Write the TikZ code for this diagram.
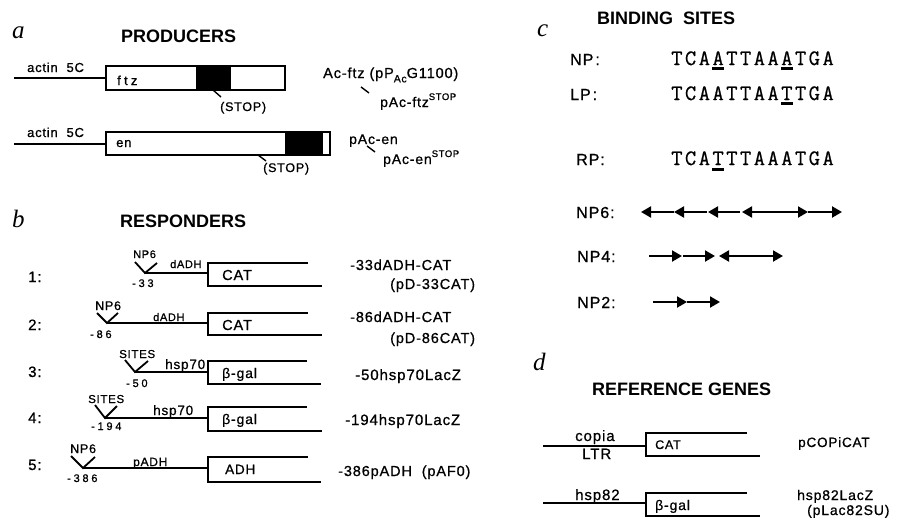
\documentclass[tikz,border=0pt]{standalone}
\usepackage{fontspec}
\setmainfont{Liberation Sans}
\newfontfamily\lsf[LetterSpace=6,FakeBold=0.8]{Liberation Sans}
\newfontfamily\wsf[LetterSpace=25,FakeBold=0.8]{Liberation Sans}
\newfontfamily\hsf{Liberation Sans}
\newfontfamily\pletter{Liberation Serif}
\newfontfamily\seqf[FakeBold=0.6]{Latin Modern Mono}
\usetikzlibrary{arrows.meta}
\newcommand\fs[1]{\fontsize{#1}{#1}\selectfont}
\newcommand\supstop{\raisebox{0.5em}{\lsf\fs{9.5}STOP}}
\tikzset{
  lbl/.style={anchor=base west, inner sep=0pt, font=\lsf\fs{#1}},
  lbl/.default=14,
  wlbl/.style={anchor=base west, inner sep=0pt, font=\wsf\fs{#1}},
  wlbl/.default=11,
  head/.style={anchor=base west, inner sep=0pt, font=\hsf\bfseries\fs{18}},
  panel/.style={anchor=base west, inner sep=0pt, font=\pletter\itshape\fs{25}},
  gene/.style={line width=1.8pt},
  thin/.style={line width=1.4pt},
  seq/.style={anchor=base, inner sep=0pt, font=\seqf\fs{22}},
  uline/.style={line width=2.6pt},
  site/.style={line width=2pt, -{Triangle[length=10pt,width=11pt]}},
}
\begin{document}
\begin{tikzpicture}[x=1pt,y=-1pt]
\useasboundingbox (0,0) rectangle (909,519);
\fill[white] (0,0) rectangle (909,519);

% ---------------- panel a
\node[panel] (pa) at (12,39) {a};
\node[head] (hprod) at (121,43) {PRODUCERS};
% row 1
\node[lbl=13] (act1) at (27,72) {actin\ \ 5C};
\coordinate (a1s) at (14,78); \coordinate (a1e) at (106,78);
\draw[gene] (a1s) -- (a1e);
\draw[thin] (106,66) rectangle (285,90);
\fill (196,66) rectangle (231,90);
\node[wlbl=13] (ftz) at (117,85) {ftz};
\coordinate (st1a) at (213,90); \coordinate (st1b) at (221,97);
\draw[thin] (st1a) -- (st1b);
\node[lbl=12.5] (stop1) at (220,111) {(STOP)};
\node[lbl=14.5] (acftz) at (323,78) {Ac-ftz (pP\raisebox{-0.3em}{\lsf\fs{10.5}Ac}G1100)};
\coordinate (t1a) at (361,87); \coordinate (t1b) at (369,93);
\draw[thin] (t1a) -- (t1b);
\node[lbl=14] (pacftz) at (380,107) {pAc-ftz\supstop};
% row 2
\node[lbl=13] (act2) at (27,137) {actin\ \ 5C};
\coordinate (a2s) at (14,144); \coordinate (a2e) at (106,144);
\draw[gene] (a2s) -- (a2e);
\draw[thin] (106,132) rectangle (330,155);
\fill (285,132) rectangle (323,155);
\node[lbl=13] (en) at (116,147) {en};
\coordinate (st2a) at (258,155); \coordinate (st2b) at (266,161);
\draw[thin] (st2a) -- (st2b);
\node[lbl=12.5] (stop2) at (263,172) {(STOP)};
\node[lbl=14] (pacen) at (349,144) {pAc-en};
\coordinate (t2a) at (367,146); \coordinate (t2b) at (375,152);
\draw[thin] (t2a) -- (t2b);
\node[lbl=14] (pacens) at (383,164) {pAc-en\supstop};

% ---------------- panel b
\node[panel] (pb) at (12,227) {b};
\node[head] (hresp) at (120,227) {RESPONDERS};
% row 1
\node[lbl=15] (n1) at (28,282) {1:};
\node[lbl=11] (r1np) at (133,258) {NP6};
\draw[gene] (135,262) -- (145,273) -- (157,263);
\coordinate (r1v) at (145,273); \coordinate (r1b) at (208,273);
\draw[gene] (r1v) -- (r1b);
\node[lbl=11] (r1ad) at (170,268) {dADH};
\node[wlbl=11] (r1p) at (132,287) {-33};
\draw[gene] (308,263) -- (208,263) -- (208,286) -- (322,286);
\node[lbl=14.5] (r1cat) at (222,280) {CAT};
\node[lbl=14.5] (r1l) at (350,270) {-33dADH-CAT};
\node[lbl=14.5] (r1m) at (390,289) {(pD-33CAT)};
% row 2
\node[lbl=15] (n2) at (28,330) {2:};
\node[lbl=12.5] (r2np) at (95,310) {NP6};
\draw[gene] (97,313) -- (107,323) -- (118,313);
\coordinate (r2v) at (107,323); \coordinate (r2b) at (208,323);
\draw[gene] (r2v) -- (r2b);
\node[lbl=11] (r2ad) at (153,321) {dADH};
\node[wlbl=11] (r2p) at (90,338) {-86};
\draw[gene] (308,313) -- (208,313) -- (208,335) -- (322,335);
\node[lbl=14.5] (r2cat) at (222,330) {CAT};
\node[lbl=14.5] (r2l) at (350,322) {-86dADH-CAT};
\node[lbl=14.5] (r2m) at (390,343) {(pD-86CAT)};
% row 3
\node[lbl=15] (n3) at (28,377) {3:};
\node[lbl=11.5] (r3s) at (119,358) {SITES};
\draw[gene] (125,360) -- (135,372) -- (148,361);
\coordinate (r3v) at (135,372); \coordinate (r3b) at (208,372);
\draw[gene] (r3v) -- (r3b);
\node[lbl=13.5] (r3h) at (165,369) {hsp70};
\node[wlbl=11] (r3p) at (126,387) {-50};
\draw[gene] (307,361) -- (208,361) -- (208,384) -- (321,384);
\node[lbl=14] (r3g) at (222,378) {β-gal};
\node[lbl=15] (r3l) at (355,380) {-50hsp70LacZ};
% row 4
\node[lbl=15] (n4) at (28,423) {4:};
\node[lbl=11.5] (r4s) at (88,403) {SITES};
\draw[gene] (95,405) -- (105,418) -- (117,406);
\coordinate (r4v) at (105,418); \coordinate (r4b) at (208,418);
\draw[gene] (r4v) -- (r4b);
\node[lbl=13.5] (r4h) at (153,415) {hsp70};
\node[wlbl=11] (r4p) at (91,430) {-194};
\draw[gene] (307,407) -- (208,407) -- (208,431) -- (322,431);
\node[lbl=14] (r4g) at (222,424) {β-gal};
\node[lbl=15] (r4l) at (345,425) {-194hsp70LacZ};
% row 5
\node[lbl=15] (n5) at (28,470) {5:};
\node[lbl=12.5] (r5np) at (70,453) {NP6};
\draw[gene] (71,456) -- (83,468) -- (95,457);
\coordinate (r5v) at (83,468); \coordinate (r5b) at (208,468);
\draw[gene] (r5v) -- (r5b);
\node[lbl=12] (r5ad) at (133,466) {pADH};
\node[wlbl=11] (r5p) at (67,482) {-386};
\draw[gene] (308,457) -- (208,457) -- (208,482) -- (321,482);
\node[lbl=13.5] (r5adh) at (225,474) {ADH};
\node[lbl=14.5] (r5l) at (338,476) {-386pADH\ \ (pAF0)};

% ---------------- panel c
\node[panel] (pc) at (537,37) {c};
\node[head] (hbind) at (597,25) {BINDING\ \ SITES};
\node[lbl=16] (lnp) at (570,65) {NP\hspace{2pt}:};
\node[lbl=16] (llp) at (570,100) {LP\hspace{2pt}:};
\node[lbl=16] (lrp) at (576,165) {RP:};
\foreach \ch [count=\i] in {T,C,A,A,T,T,A,A,A,T,G,A}
  \node[seq] (np\i) at ({670+(\i-0.5)*13.75},65) {\ch};
\foreach \ch [count=\i] in {T,C,A,A,T,T,A,A,T,T,G,A}
  \node[seq] (lp\i) at ({670+(\i-0.5)*13.75},100) {\ch};
\foreach \ch [count=\i] in {T,C,A,T,T,T,A,A,A,T,G,A}
  \node[seq] (rp\i) at ({670+(\i-0.5)*13.75},165) {\ch};
\draw[uline] ([yshift=-3.5pt]np4.south west) -- ([yshift=-3.5pt]np4.south east);
\draw[uline] ([yshift=-3.5pt]np9.south west) -- ([yshift=-3.5pt]np9.south east);
\draw[uline] ([yshift=-3.5pt]lp9.south west) -- ([yshift=-3.5pt]lp9.south east);
\draw[uline] ([yshift=-4pt]rp4.south west) -- ([yshift=-4pt]rp4.south east);
% NP6
\node[lbl=16] (l6) at (576,218) {NP6:};
\foreach \n/\x in {a/641,b/674,c/707,d/708,e/740,f/742,g/775,h/808,i/842}
  \coordinate (s6\n) at (\x,212);
\draw[site] (s6b) -- (s6a);
\draw[site] (s6c) -- (s6b);
\draw[site] (s6e) -- (s6d);
\draw[site] (s6g) -- (s6f);
\draw[site] (s6g) -- (s6h);
\draw[site] (s6h) -- (s6i);
% NP4
\node[lbl=16] (l4) at (577,262) {NP4:};
\foreach \n/\x in {a/649,b/682,c/683,d/715,e/719,f/751,g/783}
  \coordinate (s4\n) at (\x,256);
\draw[site] (s4a) -- (s4b);
\draw[site] (s4c) -- (s4d);
\draw[site] (s4f) -- (s4e);
\draw[site] (s4f) -- (s4g);
% NP2
\node[lbl=16] (l2) at (577,308) {NP2:};
\foreach \n/\x in {a/653,b/687,c/720}
  \coordinate (s2\n) at (\x,302);
\draw[site] (s2a) -- (s2b);
\draw[site] (s2b) -- (s2c);

% ---------------- panel d
\node[panel] (pd) at (533,370) {d};
\node[head] (href) at (592,395) {REFERENCE GENES};
\node[lbl=15] (copia) at (575,441) {copia};
\node[lbl=15] (ltr) at (582,459) {LTR};
\coordinate (d1s) at (543,446); \coordinate (d1b) at (646,446);
\draw[gene] (d1s) -- (d1b);
\draw[gene] (747,433) -- (646,433) -- (646,456) -- (760,456);
\node[lbl=12.5] (dcat) at (655,449) {CAT};
\node[lbl=13.5] (pcop) at (798,447) {pCOPiCAT};
\node[lbl=15] (h82) at (575,500) {hsp82};
\coordinate (d2s) at (543,503); \coordinate (d2b) at (646,503);
\draw[gene] (d2s) -- (d2b);
\draw[gene] (747,493) -- (646,493) -- (646,516) -- (760,516);
\node[lbl=14] (dgal) at (655,510) {β-gal};
\node[lbl=14] (h82l) at (797,500) {hsp82LacZ};
\node[lbl=14] (plac) at (807,515) {(pLac82SU)};
\end{tikzpicture}
\end{document}
